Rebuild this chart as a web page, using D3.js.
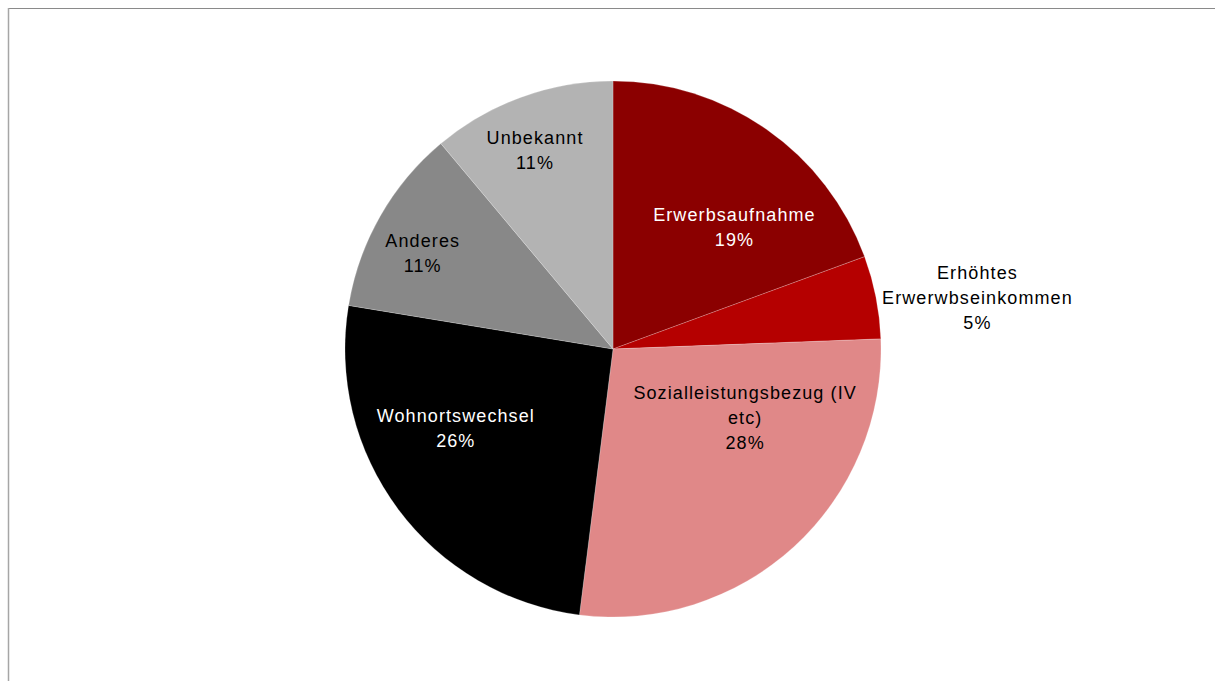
<!DOCTYPE html>
<html><head><meta charset="utf-8">
<script src="https://cdn.jsdelivr.net/npm/d3@7"></script>
<style>body{margin:0;background:#fff}svg{display:block}</style>
</head><body>
<svg id="c" width="1215" height="681"></svg>
<script>
const categories = ["Erwerbsaufnahme", "Erhöhtes Erwerwbseinkommen", "Sozialleistungsbezug (IV etc)", "Wohnortswechsel", "Anderes", "Unbekannt"];
const labelLines = [["Erwerbsaufnahme"], ["Erhöhtes", "Erwerwbseinkommen"], ["Sozialleistungsbezug (IV", "etc)"], ["Wohnortswechsel"], ["Anderes"], ["Unbekannt"]];
const values = [19.4, 5.0, 27.6, 25.6, 11.3, 11.1];
const colors = ["#8b0000", "#b50000", "#e08888", "#000000", "#888888", "#b3b3b3"];
const textColors = ["#ffffff", "#000000", "#000000", "#ffffff", "#000000", "#000000"];
// label placement: angle offset (deg) from slice bisector and radius
const labelPlace = [[10, 172], [3.2, 368], [-20, 149], [10, 176], [-3, 213], [-1.5, 213]];

const svg = d3.select("#c");
const cx = 613, cy = 349, R = 268;

svg.append("line").attr("x1", 8).attr("x2", 1215).attr("y1", 8.5).attr("y2", 8.5).attr("stroke", "#8a8a8a").attr("stroke-width", 1);
svg.append("line").attr("x1", 8.5).attr("x2", 8.5).attr("y1", 8).attr("y2", 681).attr("stroke", "#a6a6a6").attr("stroke-width", 1.5);

const pie = d3.pie().sort(null).value(d => d)(values);
const arc = d3.arc().innerRadius(0).outerRadius(R);
const g = svg.append("g").attr("transform", `translate(${cx},${cy})`);
g.selectAll("path").data(pie).join("path")
  .attr("d", arc).attr("fill", (d, i) => colors[i])
  .attr("stroke", "#ffffff").attr("stroke-opacity", 0.35).attr("stroke-width", 0.6);

const fmt = v => Math.round(v) + "%";
pie.forEach((d, i) => {
  const mid = (d.startAngle + d.endAngle) / 2 + labelPlace[i][0] * Math.PI / 180;
  const r = labelPlace[i][1];
  const x = Math.sin(mid) * r, y = -Math.cos(mid) * r;
  const lines = labelLines[i].concat([fmt(values[i])]);
  const lh = 25;
  const t = g.append("text").attr("text-anchor", "middle")
    .attr("font-family", "Liberation Sans, Arial, sans-serif").attr("font-size", 18)
    .attr("letter-spacing", "1.1px")
    .attr("fill", textColors[i]);
  lines.forEach((s, k) => {
    t.append("tspan").attr("x", x).attr("y", y + (k - (lines.length - 1) / 2) * lh + 6).text(s);
  });
});
</script>
</body></html>
